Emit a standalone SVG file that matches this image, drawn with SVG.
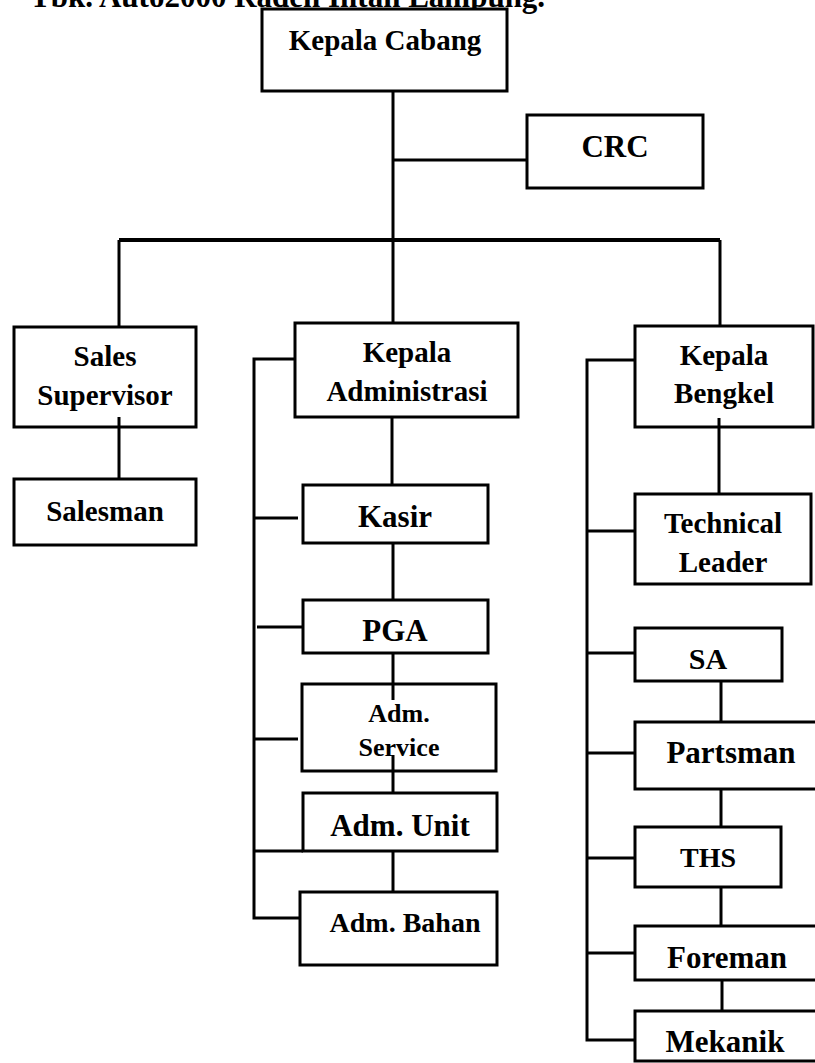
<svg xmlns="http://www.w3.org/2000/svg" width="815" height="1063" viewBox="0 0 815 1063">
<style>
.box{fill:#fff;stroke:#000;stroke-width:3}
.t{font-family:"Liberation Serif","Times New Roman",serif;font-weight:bold;text-anchor:middle;fill:#000}
.c{fill:none;stroke:#000;stroke-width:3}
</style>
<rect x="0" y="0" width="815" height="1063" fill="#fff"/>
<text class="t" x="30" y="7" style="text-anchor:start;font-size:31px">Tbk. Auto2000 Raden Intan Lampung.</text>
<g id="kepala-cabang"><rect class="box" x="262" y="9" width="245" height="82"/><text class="t" x="385" y="50" font-size="29">Kepala Cabang</text></g>
<g id="crc"><rect class="box" x="527" y="115" width="176" height="73"/><text class="t" x="615" y="157" font-size="31">CRC</text></g>
<g id="sales-supervisor"><rect class="box" x="14" y="327" width="182" height="100"/><text class="t" x="105" y="366" font-size="29">Sales</text><text class="t" x="105" y="405" font-size="29">Supervisor</text></g>
<g id="salesman"><rect class="box" x="14" y="479" width="182" height="66"/><text class="t" x="105" y="521" font-size="29">Salesman</text></g>
<g id="kepala-administrasi"><rect class="box" x="295" y="323" width="223" height="94"/><text class="t" x="407" y="362" font-size="29">Kepala</text><text class="t" x="407" y="401" font-size="29">Administrasi</text></g>
<g id="kasir"><rect class="box" x="303" y="485" width="185" height="58"/><text class="t" x="395" y="527" font-size="31">Kasir</text></g>
<g id="pga"><rect class="box" x="303" y="600" width="185" height="53"/><text class="t" x="395" y="641" font-size="31">PGA</text></g>
<g id="adm-service"><rect class="box" x="302" y="684" width="194" height="87"/><text class="t" x="399" y="722" font-size="26">Adm.</text><text class="t" x="399" y="756" font-size="26">Service</text></g>
<g id="adm-unit"><rect class="box" x="303" y="793" width="194" height="58"/><text class="t" x="400" y="836" font-size="31">Adm. Unit</text></g>
<g id="adm-bahan"><rect class="box" x="300" y="892" width="197" height="73"/><text class="t" x="405" y="932" font-size="28">Adm. Bahan</text></g>
<g id="kepala-bengkel"><rect class="box" x="635" y="326" width="178" height="101"/><text class="t" x="724" y="365" font-size="29">Kepala</text><text class="t" x="724" y="403" font-size="29">Bengkel</text></g>
<g id="technical-leader"><rect class="box" x="635" y="494" width="176" height="90"/><text class="t" x="723" y="533" font-size="29">Technical</text><text class="t" x="723" y="572" font-size="29">Leader</text></g>
<g id="sa"><rect class="box" x="635" y="628" width="147" height="53"/><text class="t" x="708" y="669" font-size="30">SA</text></g>
<g id="partsman"><rect class="box" x="635" y="722" width="185" height="67"/><text class="t" x="731" y="763" font-size="31">Partsman</text></g>
<g id="ths"><rect class="box" x="635" y="827" width="146" height="60"/><text class="t" x="708" y="867" font-size="28">THS</text></g>
<g id="foreman"><rect class="box" x="635" y="926" width="185" height="54"/><text class="t" x="727" y="968" font-size="31">Foreman</text></g>
<g id="mekanik"><rect class="box" x="635" y="1011" width="185" height="50"/><text class="t" x="725" y="1052" font-size="31">Mekanik</text></g>
<g id="connectors">
<path class="c" d="M393,91 V323"/>
<path class="c" d="M393,160 H527"/>
<path class="c" d="M119,240 H720" style="stroke-width:4"/>
<path class="c" d="M119,240 V327"/>
<path class="c" d="M720,240 V326"/>
<path class="c" d="M119,417 V479"/>
<path class="c" d="M295,359 H254 V918 H300"/>
<path class="c" d="M254,518 H298"/>
<path class="c" d="M257,627 H303"/>
<path class="c" d="M254,739 H298"/>
<path class="c" d="M254,851 H303"/>
<path class="c" d="M392,417 V485"/>
<path class="c" d="M393,543 V600"/>
<path class="c" d="M393,653 V700"/>
<path class="c" d="M393,755 V793"/>
<path class="c" d="M393,851 V892"/>
<path class="c" d="M635,360 H587 V1040 H635"/>
<path class="c" d="M587,531 H635"/>
<path class="c" d="M587,653 H635"/>
<path class="c" d="M587,753 H635"/>
<path class="c" d="M587,858 H635"/>
<path class="c" d="M587,953 H635"/>
<path class="c" d="M719,418 V494"/>
<path class="c" d="M721,681 V722"/>
<path class="c" d="M721,789 V827"/>
<path class="c" d="M721,887 V926"/>
<path class="c" d="M722,980 V1011"/>
</g>
</svg>
